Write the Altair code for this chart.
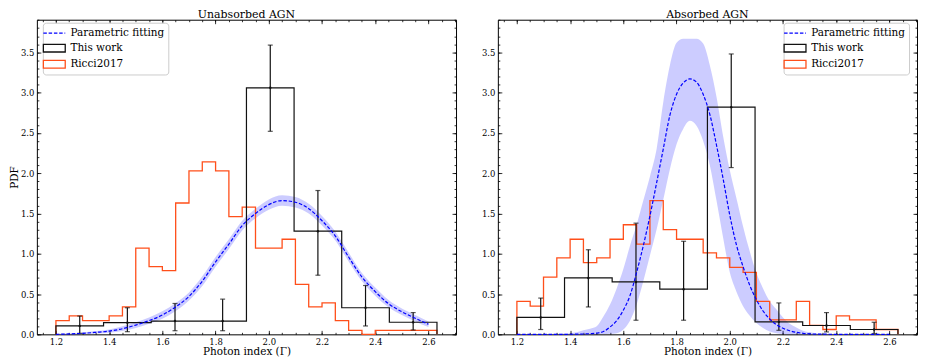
import altair as alt
import pandas as pd

FONT = "DejaVu Serif"

# ---------------- data ----------------
SERIES = ["Parametric fitting", "This work", "Ricci2017"]
SERIES_COLORS = ["#0000ff", "#111111", "#ff4f1a"]

BIN_EDGES = [1.2, 1.379, 1.558, 1.737, 1.916, 2.095, 2.274, 2.453, 2.632]
RICCI_EDGES = [1.2, 1.25, 1.3, 1.35, 1.4, 1.45, 1.5, 1.55, 1.6, 1.65, 1.7, 1.75,
               1.8, 1.85, 1.9, 1.95, 2.0, 2.05, 2.1, 2.15, 2.2, 2.25, 2.3, 2.35,
               2.4, 2.45, 2.5, 2.55, 2.6, 2.632]

# Unabsorbed AGN
UNABS_WORK = [0.105, 0.145, 0.165, 0.165, 3.06, 1.28, 0.33, 0.15]
UNABS_LO = [0.012, 0.033, 0.045, 0.045, 2.52, 0.734, 0.104, 0.054]
UNABS_HI = [0.227, 0.33, 0.383, 0.437, 3.59, 1.785, 0.606, 0.27]
UNABS_RICCI = [0.17, 0.23, 0.17, 0.17, 0.23, 0.34, 1.07, 0.84, 0.79, 1.63, 2.03,
               2.14, 2.03, 1.46, 1.58, 1.07, 1.07, 1.18, 0.62, 0.34, 0.39, 0.17,
               0.05, 0.0, 0.05, 0.05, 0.05, 0.05, 0.05]
GAMMA_L = [1.2, 1.25, 1.3, 1.35, 1.4, 1.45, 1.5, 1.55, 1.6, 1.65, 1.7, 1.75, 1.8,
           1.85, 1.9, 1.95, 2.0, 2.05, 2.1, 2.15, 2.2, 2.25, 2.3, 2.35, 2.4, 2.45,
           2.5, 2.55, 2.6]
UNABS_FIT = [0.0, 0.005, 0.012, 0.025, 0.04, 0.07, 0.115, 0.17, 0.24, 0.34, 0.47,
             0.66, 0.90, 1.12, 1.35, 1.50, 1.61, 1.66, 1.64, 1.56, 1.41, 1.22,
             0.96, 0.71, 0.53, 0.38, 0.28, 0.20, 0.125]
UNABS_FIT_LO = [0.0, 0.0, 0.003, 0.01, 0.02, 0.04, 0.08, 0.13, 0.195, 0.29, 0.42,
                0.60, 0.84, 1.06, 1.29, 1.44, 1.545, 1.595, 1.575, 1.50, 1.35,
                1.165, 0.905, 0.66, 0.48, 0.335, 0.24, 0.16, 0.09]
UNABS_FIT_HI = [0.005, 0.012, 0.022, 0.04, 0.06, 0.10, 0.15, 0.21, 0.285, 0.39,
                0.52, 0.72, 0.96, 1.18, 1.41, 1.56, 1.675, 1.725, 1.705, 1.62,
                1.47, 1.275, 1.015, 0.76, 0.58, 0.425, 0.32, 0.24, 0.16]

# Absorbed AGN
ABS_WORK = [0.21, 0.70, 0.65, 0.56, 2.82, 0.155, 0.11, 0.06]
ABS_LO = [0.06, 0.34, 0.175, 0.175, 2.07, 0.05, 0.03, 0.01]
ABS_HI = [0.45, 1.05, 1.38, 1.155, 3.48, 0.39, 0.27, 0.15]
ABS_RICCI = [0.41, 0.35, 0.71, 0.95, 1.18, 0.89, 0.95, 1.18, 1.36, 1.12, 1.66,
             1.30, 1.18, 1.18, 1.01, 0.95, 0.83, 0.77, 0.41, 0.18, 0.18, 0.41,
             0.11, 0.06, 0.23, 0.18, 0.18, 0.06, 0.06]
GAMMA_R = [1.2, 1.225, 1.25, 1.275, 1.3, 1.325, 1.35, 1.375, 1.4, 1.425, 1.45,
           1.475, 1.5, 1.525, 1.55, 1.575, 1.6, 1.625, 1.65, 1.675, 1.7, 1.725,
           1.75, 1.775, 1.8, 1.825, 1.85, 1.875, 1.9, 1.925, 1.95, 1.975, 2.0,
           2.025, 2.05, 2.075, 2.1, 2.125, 2.15, 2.175, 2.2, 2.225, 2.25, 2.275,
           2.3, 2.325, 2.35, 2.375, 2.4, 2.425, 2.45, 2.475, 2.5, 2.525, 2.55,
           2.575, 2.6]
ABS_FIT = [0, 0, 0, 0, 0, 0, 0, 0,
           0.001, 0.002, 0.004, 0.008,
           0.015, 0.035, 0.09, 0.17,
           0.30, 0.48, 0.77, 1.10,
           1.47, 1.88, 2.30, 2.72,
           2.98, 3.12, 3.17, 3.13,
           2.98, 2.73, 2.35, 1.93,
           1.48, 1.11, 0.84, 0.61,
           0.43, 0.29, 0.19, 0.12,
           0.075, 0.045, 0.025, 0.013,
           0.006, 0.003, 0.002, 0.001,
           0, 0, 0, 0, 0, 0, 0, 0, 0]
ABS_FIT_LO = [0, 0, 0, 0, 0, 0, 0, 0,
              0, 0, 0, 0,
              0.001, 0.003, 0.006, 0.015,
              0.06, 0.17, 0.37, 0.66,
              0.98, 1.30, 1.67, 2.05,
              2.36, 2.55, 2.65, 2.59,
              2.40, 2.10, 1.66, 1.20,
              0.77, 0.53, 0.35, 0.23,
              0.14, 0.08, 0.035, 0.015,
              0.005, 0.002, 0, 0,
              0, 0, 0, 0,
              0, 0, 0, 0, 0, 0, 0, 0, 0]
ABS_FIT_HI = [0, 0, 0, 0.001, 0.002, 0.004, 0.006, 0.01,
              0.015, 0.025, 0.05, 0.07,
              0.10, 0.22, 0.37, 0.57,
              0.81, 1.10, 1.36, 1.66,
              1.96, 2.30, 2.88, 3.34,
              3.62, 3.67, 3.67, 3.67,
              3.61, 3.34, 2.95, 2.46,
              2.04, 1.69, 1.34, 1.03,
              0.76, 0.57, 0.41, 0.31,
              0.21, 0.13, 0.085, 0.045,
              0.025, 0.015, 0.008, 0.004,
              0.002, 0, 0, 0, 0, 0, 0, 0, 0]

X_MAJOR = [1.2, 1.4, 1.6, 1.8, 2.0, 2.2, 2.4, 2.6]
X_MINOR = [round(1.15 + 0.05 * i, 2) for i in range(32)]
Y_MAJOR = [0.0, 0.5, 1.0, 1.5, 2.0, 2.5, 3.0, 3.5]
Y_MINOR = [round(0.1 * i, 1) for i in range(40)]

X_DOMAIN = [1.1284, 2.7036]
Y_DOMAIN = [0, 3.905]
PANEL_W = 421
PANEL_H = 316

# legend symbols: dashed line, outlined rectangles
LINE_PATH = "M-1.69,0L1.69,0"
RECT_PATH = "M-1.69,-0.59L1.69,-0.59L1.69,0.59L-1.69,0.59Z"


def step_table(edges, vals):
    xs = [edges[0]] + list(edges[:-1]) + [edges[-1], edges[-1]]
    ys = [0.0] + list(vals) + [vals[-1], 0.0]
    return pd.DataFrame({"x": xs, "y": ys, "i": list(range(len(xs)))})


def ax(orient, values, major, labels=False, title=None):
    size = 4 if major else 2
    kw = dict(orient=orient, values=values, tickSize=size, offset=-size,
              domain=False, grid=False, labels=labels, ticks=True,
              tickColor="black", tickWidth=0.8, title=title)
    if labels:
        kw.update(format=".1f", labelFont=FONT, labelFontSize=8.5,
                  labelColor="black", labelPadding=3, labelFlush=False,
                  labelOverlap=False)
    if title:
        kw.update(titleFont=FONT, titleFontSize=10.5, titleFontWeight="normal",
                  titleColor="black", titlePadding=1)
    return alt.Axis(**kw)


def panel(title, work, lo, hi, ricci, gam, fit, fit_lo, fit_hi, leg_x, ytitle):
    xs = alt.Scale(domain=X_DOMAIN, nice=False, zero=False)
    ys = alt.Scale(domain=Y_DOMAIN, nice=False, zero=False)

    fit_df = pd.DataFrame({"g": gam, "c": fit, "lo": fit_lo, "hi": fit_hi})
    centers = [(BIN_EDGES[k] + BIN_EDGES[k + 1]) / 2 for k in range(len(work))]
    err_df = pd.DataFrame({"x": centers, "v": work, "lo": lo, "hi": hi})

    band = alt.Chart(fit_df).mark_area(color="#0000ff", opacity=0.2,
                                       interpolate="monotone").encode(
        x=alt.X("g:Q", scale=xs,
                axis=ax("bottom", X_MAJOR, True, True, "Photon index (Γ)")),
        y=alt.Y("lo:Q", scale=ys, axis=ax("left", Y_MAJOR, True, True, ytitle)),
        y2="hi:Q",
    )
    red = alt.Chart(step_table(RICCI_EDGES, ricci)).mark_line(
        color="#ff4f1a", strokeWidth=1.3, interpolate="step-after").encode(
        x=alt.X("x:Q", scale=xs, axis=ax("bottom", X_MINOR, False)),
        y=alt.Y("y:Q", scale=ys, axis=ax("left", Y_MINOR, False)),
        order="i:Q",
    )
    black = alt.Chart(step_table(BIN_EDGES, work)).mark_line(
        color="#111111", strokeWidth=1.2, interpolate="step-after").encode(
        x=alt.X("x:Q", scale=xs, axis=ax("top", X_MAJOR, True)),
        y=alt.Y("y:Q", scale=ys, axis=ax("right", Y_MAJOR, True)),
        order="i:Q",
    )
    ebar = alt.Chart(err_df).mark_rule(color="#111111", strokeWidth=1.2).encode(
        x=alt.X("x:Q", scale=xs, axis=ax("top", X_MINOR, False)),
        y=alt.Y("lo:Q", scale=ys, axis=ax("right", Y_MINOR, False)),
        y2="hi:Q",
    )
    cap_lo = alt.Chart(err_df).mark_tick(color="#111111", orient="horizontal",
                                         size=5, thickness=1.2).encode(
        x=alt.X("x:Q", scale=xs, axis=None),
        y=alt.Y("lo:Q", scale=ys, axis=None),
    )
    cap_hi = alt.Chart(err_df).mark_tick(color="#111111", orient="horizontal",
                                         size=5, thickness=1.2).encode(
        x=alt.X("x:Q", scale=xs, axis=None),
        y=alt.Y("hi:Q", scale=ys, axis=None),
    )
    dot = alt.Chart(err_df).mark_point(color="#111111", filled=True, size=6,
                                       opacity=1).encode(
        x=alt.X("x:Q", scale=xs, axis=None),
        y=alt.Y("v:Q", scale=ys, axis=None),
    )
    curve = alt.Chart(fit_df).mark_line(color="#0000ff", strokeWidth=1.2,
                                        strokeDash=[3.5, 1.8],
                                        interpolate="monotone").encode(
        x=alt.X("g:Q", scale=xs, axis=None),
        y=alt.Y("c:Q", scale=ys, axis=None),
    )
    leg = alt.Legend(title=None, orient="none", legendX=leg_x, legendY=3,
                     symbolSize=169, symbolStrokeWidth=1.3, symbolOpacity=1,
                     symbolOffset=1, labelOffset=8.7,
                     labelFont=FONT, labelFontSize=10.5, labelColor="black",
                     padding=3, rowPadding=2.1, fillColor="white",
                     strokeColor="#cccccc", cornerRadius=3, labelLimit=300)
    leg_df = pd.DataFrame({"series": SERIES, "x": [1.5] * 3, "y": [1.0] * 3})
    legend_layer = alt.Chart(leg_df).mark_point(opacity=0, filled=False).encode(
        x=alt.X("x:Q", scale=xs, axis=None),
        y=alt.Y("y:Q", scale=ys, axis=None),
        color=alt.Color("series:N", scale=alt.Scale(domain=SERIES, range=SERIES_COLORS), legend=leg),
        shape=alt.Shape("series:N", scale=alt.Scale(domain=SERIES, range=[LINE_PATH, RECT_PATH, RECT_PATH]), legend=leg),
        strokeDash=alt.StrokeDash("series:N", scale=alt.Scale(domain=SERIES, range=[[3.5, 1.8], [1, 0], [1, 0]]), legend=leg),
    )
    return alt.layer(band, red, black, ebar, cap_lo, cap_hi, dot, curve,
                     legend_layer).resolve_axis(
        x="independent", y="independent").properties(
        width=PANEL_W, height=PANEL_H,
        title=alt.TitleParams(title, font=FONT, fontSize=11, fontWeight="normal",
                              color="black", offset=-1))


left = panel("Unabsorbed AGN", UNABS_WORK, UNABS_LO, UNABS_HI, UNABS_RICCI,
             GAMMA_L, UNABS_FIT, UNABS_FIT_LO, UNABS_FIT_HI, 6, "PDF")
right = panel("Absorbed AGN", ABS_WORK, ABS_LO, ABS_HI, ABS_RICCI,
              GAMMA_R, ABS_FIT, ABS_FIT_LO, ABS_FIT_HI, 287, None)

chart = alt.hconcat(left, right, spacing=23, padding=0).resolve_scale(
    color="independent", shape="independent", strokeDash="independent"
).configure(background="white").configure_view(stroke="black", strokeWidth=1)

chart.save("out.html", embed_options={"renderer": "svg", "actions": False})
